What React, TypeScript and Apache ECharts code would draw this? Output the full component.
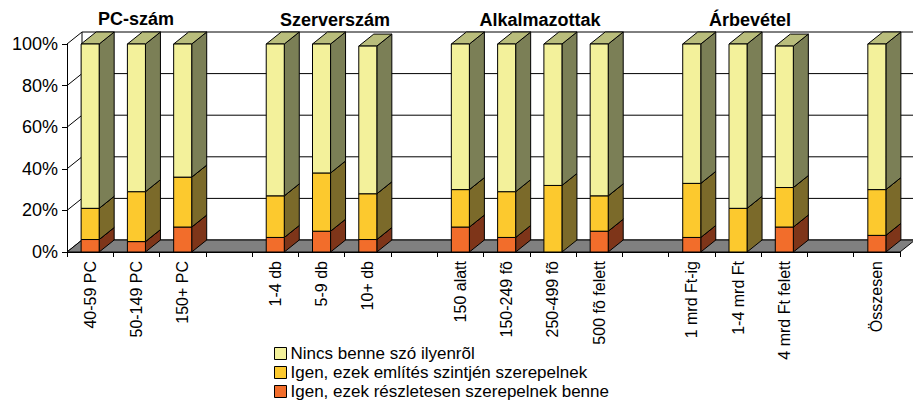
import React, { useEffect, useRef } from "react";
import * as echarts from "echarts";

const categories = [
  "40-59 PC", "50-149 PC", "150+ PC", "",
  "1-4 db", "5-9 db", "10+ db", "",
  "150 alatt", "150-249 fõ", "250-499 fõ", "500 fõ felett", "",
  "1 mrd Ft-ig", "1-4 mrd Ft", "4 mrd Ft felett", "",
  "Összesen",
];
const seriesNames = [
  "Nincs benne szó ilyenrõl",
  "Igen, ezek említés szintjén szerepelnek",
  "Igen, ezek részletesen szerepelnek benne",
];
const detailed = [6, 5, 12, null, 7, 10, 6, null, 12, 7, 0, 10, null, 7, 0, 12, null, 8];
const mentioned = [15, 24, 24, null, 20, 28, 22, null, 18, 22, 32, 17, null, 26, 21, 19, null, 22];
const none = [79, 71, 64, null, 73, 62, 71, null, 70, 71, 68, 73, null, 67, 79, 68, null, 70];
const yTicks = [0, 20, 40, 60, 80, 100];
const groupTitles = ["PC-szám", "Szerverszám", "Alkalmazottak", "Árbevétel"];

const FONT = '"Liberation Sans", Arial, sans-serif';
const DX = 15;
const DY = -12;

const palette = [
  { front: "#F3F19B", side: "#7B7F56", top: "#B9BD7C" },
  { front: "#FCC92E", side: "#7B6A2A", top: "#BFA040" },
  { front: "#F26D2B", side: "#7E3519", top: "#B85020" },
];

function buildLayers() {
  const layers = [detailed, mentioned, none];
  const bases = categories.map(() => 0);
  return layers.map((arr) =>
    arr
      .map((v, i) => {
        if (v === null) return null;
        const item = [i, bases[i], v];
        bases[i] += v;
        return item;
      })
      .filter((d) => d !== null)
  );
}

export default function App() {
  const ref = useRef<HTMLDivElement>(null);
  useEffect(() => {
    if (!ref.current) return;
    const chart = echarts.init(ref.current, null, { renderer: "svg" });
    const [lDetailed, lMentioned, lNone] = buildLayers();

    const barRender = (colors: { front: string; side: string; top: string }) =>
      (params: any, api: any) => {
        const i = api.value(0);
        const base = api.value(1);
        const v = api.value(2);
        if (!v) return null;
        const p0 = api.coord([i, base]);
        const p1 = api.coord([i, base + v]);
        const slot = api.size([1, 0])[0];
        const w = slot * 0.39;
        const L = p0[0] - w / 2;
        const R = p0[0] + w / 2;
        const B = p0[1];
        const T = p1[1];
        const st = { stroke: "#000", lineWidth: 1 };
        return {
          type: "group",
          children: [
            {
              type: "polygon",
              shape: { points: [[R, B], [R + DX, B + DY], [R + DX, T + DY], [R, T]] },
              style: { ...st, fill: colors.side },
            },
            {
              type: "polygon",
              shape: { points: [[L, T], [R, T], [R + DX, T + DY], [L + DX, T + DY]] },
              style: { ...st, fill: colors.top },
            },
            {
              type: "rect",
              shape: { x: L, y: T, width: w, height: B - T },
              style: { ...st, fill: colors.front },
            },
          ],
        };
      };

    const layerSeries = (name: string, data: any[], colors: any) => ({
      type: "custom",
      name,
      data,
      encode: { x: 0, y: 2 },
      itemStyle: { color: colors.front, borderColor: "#000", borderWidth: 1 },
      renderItem: barRender(colors),
    });

    const option: any = {
      animation: false,
      backgroundColor: "#fff",
      grid: { left: 67, right: 13, top: 44, bottom: 148, containLabel: false },
      xAxis: {
        type: "category",
        data: categories,
        boundaryGap: true,
        axisLine: { show: true, lineStyle: { color: "#000", width: 1 } },
        axisTick: { show: true, interval: 0, length: 5, lineStyle: { color: "#000" } },
        axisLabel: {
          interval: 0,
          rotate: 90,
          margin: 9,
          color: "#000",
          fontSize: 16,
          fontFamily: FONT,
        },
        splitLine: { show: false },
      },
      yAxis: {
        type: "value",
        min: 0,
        max: 100,
        interval: 20,
        axisLine: { show: true, lineStyle: { color: "#000", width: 1 } },
        axisTick: { show: true, length: 5, lineStyle: { color: "#000" } },
        axisLabel: {
          formatter: "{value}%",
          margin: 9,
          color: "#000",
          fontSize: 18,
          fontFamily: FONT,
        },
        splitLine: { show: false },
      },
      legend: {
        orient: "vertical",
        left: 274,
        top: 345,
        height: 56,
        icon: "rect",
        itemWidth: 12,
        itemHeight: 12,
        itemGap: 2,
        padding: 0,
        data: seriesNames,
        textStyle: {
          color: "#000",
          fontSize: 17,
          lineHeight: 16,
          fontFamily: FONT,
          padding: [0, 0, 0, -1],
        },
        itemStyle: { borderColor: "#000", borderWidth: 1 },
        selectedMode: false,
      },
      graphic: [
        { x: 136, y: 19 },
        { x: 335, y: 20 },
        { x: 540, y: 20 },
        { x: 750, y: 20 },
      ].map((p, k) => ({
        type: "text",
        x: p.x,
        y: p.y,
        style: {
          text: groupTitles[k],
          fill: "#000",
          fontSize: 18,
          fontWeight: "bold",
          fontFamily: FONT,
          align: "center",
          verticalAlign: "middle",
        },
      })),
      series: [
        {
          type: "custom",
          name: "grid",
          data: yTicks.map((v) => [0, v]),
          encode: { x: 0, y: 1 },
          silent: true,
          renderItem: (params: any, api: any) => {
            const cs = params.coordSys;
            const v = api.value(1);
            const y = api.coord([0, v])[1];
            const ls = { stroke: "#000", lineWidth: 1, fill: null };
            const children: any[] = [
              { type: "line", shape: { x1: cs.x, y1: y, x2: cs.x + DX, y2: y + DY }, style: ls },
              {
                type: "line",
                shape: { x1: cs.x + DX, y1: y + DY, x2: cs.x + cs.width + DX, y2: y + DY },
                style: ls,
              },
            ];
            if (v === 100) {
              children.push({
                type: "line",
                shape: { x1: cs.x + DX, y1: y + DY, x2: cs.x + DX, y2: cs.y + cs.height + DY },
                style: ls,
              });
            }
            return { type: "group", children };
          },
        },
        {
          type: "custom",
          name: "floor",
          data: [[0, 0]],
          encode: { x: 0, y: 1 },
          silent: true,
          renderItem: (params: any, api: any) => {
            const cs = params.coordSys;
            const y = api.coord([0, 0])[1];
            const l = cs.x;
            const r = cs.x + cs.width;
            return {
              type: "polygon",
              shape: { points: [[l, y], [r, y], [r + DX, y + DY], [l + DX, y + DY]] },
              style: { fill: "#808080", stroke: "#000", lineWidth: 1 },
            };
          },
        },
        layerSeries(seriesNames[2], lDetailed, palette[2]),
        layerSeries(seriesNames[1], lMentioned, palette[1]),
        layerSeries(seriesNames[0], lNone, palette[0]),
      ],
    };
    chart.setOption(option);
    return () => chart.dispose();
  }, []);
  return (
    <div
      ref={ref}
      style={{ position: "fixed", left: 0, top: 0, width: 913, height: 400, background: "#fff" }}
    />
  );
}
